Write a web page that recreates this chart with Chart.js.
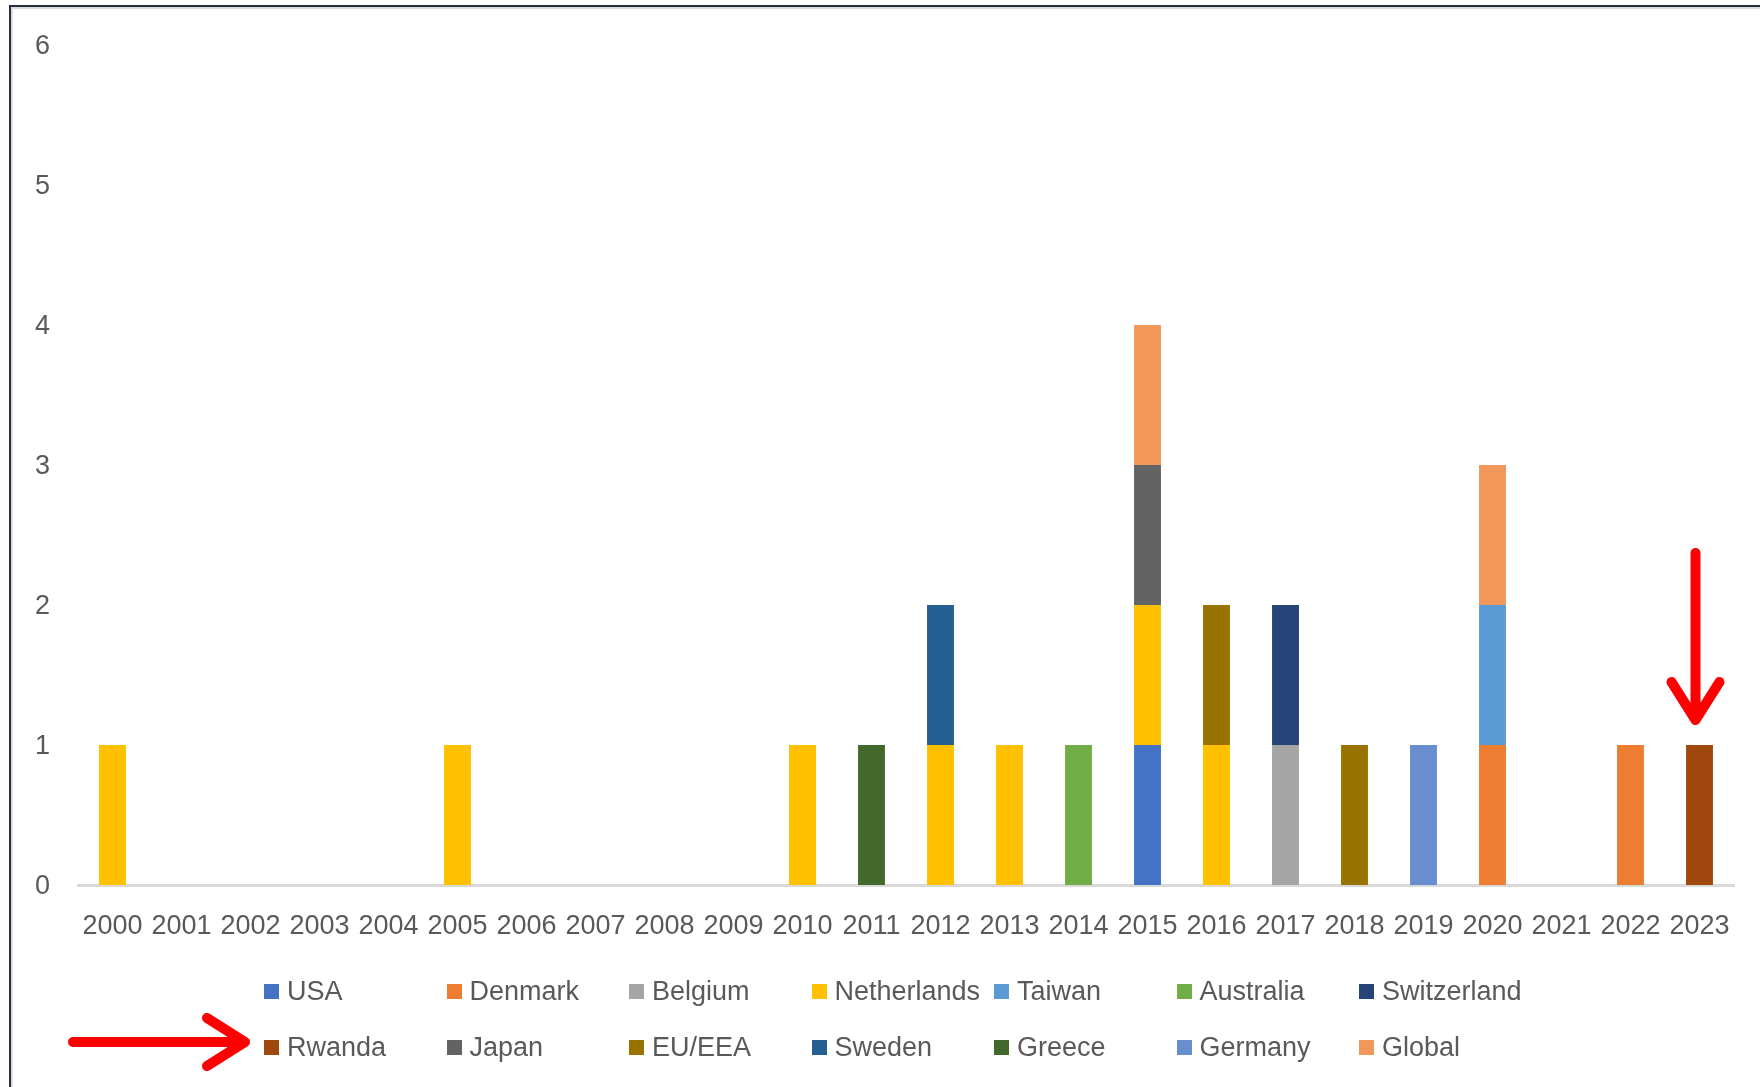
<!DOCTYPE html>
<html>
<head>
<meta charset="utf-8">
<title>Stacked bars by year</title>
<script src="https://cdn.jsdelivr.net/npm/chart.js@4.4.0/dist/chart.umd.min.js"></script>
<style>
    html, body { margin: 0; padding: 0; background: #fff; }
    body { width: 1760px; height: 1087px; overflow: hidden; position: relative; font-family: "Liberation Sans", Arial, sans-serif; }
    #frame {
        position: absolute; left: 9px; top: 5px; width: 1800px; height: 1200px;
        border-left: 2px solid #262f3d; border-top: 2px solid #262f3d;
        box-shadow: inset 2px 2px 0 #dcdcdc;
    }
    #wrap { position: absolute; left: 0; top: 0; width: 1760px; height: 1087px; }
    #legend {
        position: absolute; left: 264px; top: 973px;
        display: grid; grid-template-columns: repeat(7, 182.5px); row-gap: 20px;
    }
    .item { display: flex; align-items: center; height: 36px; font-size: 27px; color: #595959; white-space: nowrap; }
    .box { width: 15px; height: 15px; margin-right: 8px; flex: none; }
</style>
</head>
<body>
<div id="frame"></div>
<div id="wrap"><canvas id="chart" width="1760" height="1087"></canvas></div>
<div id="legend"></div>
<script>
// 연도 (x축)
const years = ['2000', '2001', '2002', '2003', '2004', '2005', '2006', '2007', '2008', '2009', '2010', '2011',
               '2012', '2013', '2014', '2015', '2016', '2017', '2018', '2019', '2020', '2021', '2022', '2023'];
const yTicks = [0, 1, 2, 3, 4, 5, 6];

// 국가별 값 (2000 ~ 2023)
const usa         = [0,0,0,0,0,0,0,0,0,0,0,0,0,0,0,1,0,0,0,0,0,0,0,0];
const denmark     = [0,0,0,0,0,0,0,0,0,0,0,0,0,0,0,0,0,0,0,0,1,0,1,0];
const belgium     = [0,0,0,0,0,0,0,0,0,0,0,0,0,0,0,0,0,1,0,0,0,0,0,0];
const netherlands = [1,0,0,0,0,1,0,0,0,0,1,0,1,1,0,1,1,0,0,0,0,0,0,0];
const taiwan      = [0,0,0,0,0,0,0,0,0,0,0,0,0,0,0,0,0,0,0,0,1,0,0,0];
const australia   = [0,0,0,0,0,0,0,0,0,0,0,0,0,0,1,0,0,0,0,0,0,0,0,0];
const switzerland = [0,0,0,0,0,0,0,0,0,0,0,0,0,0,0,0,0,1,0,0,0,0,0,0];
const rwanda      = [0,0,0,0,0,0,0,0,0,0,0,0,0,0,0,0,0,0,0,0,0,0,0,1];
const japan       = [0,0,0,0,0,0,0,0,0,0,0,0,0,0,0,1,0,0,0,0,0,0,0,0];
const euEea       = [0,0,0,0,0,0,0,0,0,0,0,0,0,0,0,0,1,0,1,0,0,0,0,0];
const sweden      = [0,0,0,0,0,0,0,0,0,0,0,0,1,0,0,0,0,0,0,0,0,0,0,0];
const greece      = [0,0,0,0,0,0,0,0,0,0,0,1,0,0,0,0,0,0,0,0,0,0,0,0];
const germany     = [0,0,0,0,0,0,0,0,0,0,0,0,0,0,0,0,0,0,0,1,0,0,0,0];
const global      = [0,0,0,0,0,0,0,0,0,0,0,0,0,0,0,1,0,0,0,0,1,0,0,0];

const seriesNames = ['USA', 'Denmark', 'Belgium', 'Netherlands', 'Taiwan', 'Australia', 'Switzerland',
                     'Rwanda', 'Japan', 'EU/EEA', 'Sweden', 'Greece', 'Germany', 'Global'];
const seriesValues = [usa, denmark, belgium, netherlands, taiwan, australia, switzerland,
                      rwanda, japan, euEea, sweden, greece, germany, global];
const seriesColors = ['#4472C4', '#ED7D31', '#A5A5A5', '#FFC000', '#5B9BD5', '#70AD47', '#264478',
                      '#9E480E', '#636363', '#997300', '#255E91', '#43682B', '#698ED0', '#F1975A'];

const TEXT_COLOR = '#595959';
const FONT = { family: '"Liberation Sans", Arial, sans-serif', size: 27 };

// 빨간 화살표 (주석)
const arrowPlugin = {
    id: 'redArrows',
    afterDraw(chart) {
        const { ctx, scales: { x, y } } = chart;
        const drawArrow = (x1, y1, x2, y2) => {
            const ang = Math.atan2(y2 - y1, x2 - x1);
            const back = 38, spread = 24;
            const bx = x2 - back * Math.cos(ang), by = y2 - back * Math.sin(ang);
            const px = -Math.sin(ang) * spread, py = Math.cos(ang) * spread;
            ctx.beginPath();
            ctx.moveTo(x1, y1);
            ctx.lineTo(x2, y2);
            ctx.moveTo(bx + px, by + py);
            ctx.lineTo(x2, y2);
            ctx.lineTo(bx - px, by - py);
            ctx.stroke();
        };
        ctx.save();
        ctx.strokeStyle = '#FF0000';
        ctx.lineWidth = 10;
        ctx.lineCap = 'round';
        ctx.lineJoin = 'round';

        // 2023 막대 위
        const ax = x.getPixelForValue(years.length - 1) - 4;
        const tipY = y.getPixelForValue(rwanda[years.length - 1]) - 25;
        drawArrow(ax, tipY - 167, ax, tipY);

        // 범례의 Rwanda 항목
        drawArrow(73, 1042, 245, 1042);
        ctx.restore();
    }
};

const chart = new Chart(document.getElementById('chart').getContext('2d'), {
    type: 'bar',
    data: {
        labels: years,
        datasets: seriesNames.map((name, i) => ({
            label: name,
            data: seriesValues[i],
            backgroundColor: seriesColors[i],
            borderWidth: 0,
            barPercentage: 0.39,
            categoryPercentage: 1.0
        }))
    },
    options: {
        responsive: false,
        animation: false,
        layout: { padding: { top: 45, right: 26, bottom: 122, left: 0 } },
        plugins: {
            legend: { display: false },
            tooltip: { enabled: false }
        },
        scales: {
            x: {
                stacked: true,
                grid: { display: false, drawTicks: false },
                border: { display: true, color: '#D9D9D9', width: 3 },
                ticks: { color: TEXT_COLOR, font: FONT, padding: 25, maxRotation: 0, autoSkip: false },
                afterFit: (s) => { s.height = 80; }
            },
            y: {
                stacked: true,
                min: 0,
                max: 6,
                grid: { display: false, drawTicks: false },
                border: { display: false },
                afterBuildTicks: (s) => { s.ticks = yTicks.map(v => ({ value: v })); },
                ticks: { color: TEXT_COLOR, font: FONT, padding: 28, labelOffset: 2 },
                afterFit: (s) => { s.width = 78; }
            }
        }
    },
    plugins: [arrowPlugin]
});

// 범례 (7열 그리드)
const legendEl = document.getElementById('legend');
chart.data.datasets.forEach(ds => {
    const item = document.createElement('div');
    item.className = 'item';
    const box = document.createElement('span');
    box.className = 'box';
    box.style.background = ds.backgroundColor;
    const label = document.createElement('span');
    label.textContent = ds.label;
    item.appendChild(box);
    item.appendChild(label);
    legendEl.appendChild(item);
});
</script>
</body>
</html>
